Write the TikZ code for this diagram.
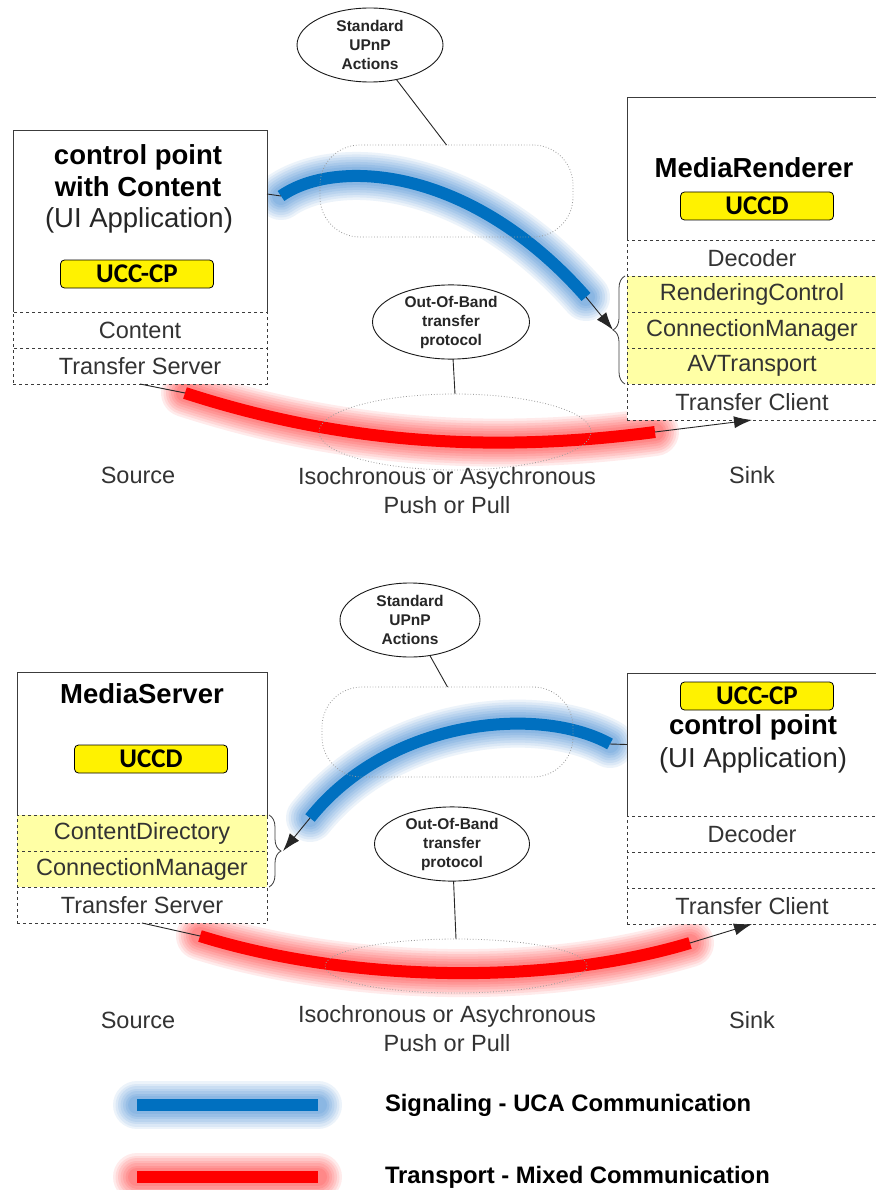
\documentclass[tikz,border=0pt]{standalone}
\usepackage{fontspec}
\setmainfont{Liberation Sans}
\newfontfamily\calfont{Carlito}
\usetikzlibrary{arrows.meta,positioning,shapes.geometric,decorations.pathreplacing}

\definecolor{sigblue}{RGB}{0,112,192}
\definecolor{glowblue}{RGB}{100,160,220}
\definecolor{trred}{RGB}{255,0,0}
\definecolor{glowred}{RGB}{255,95,95}
\definecolor{svcyellow}{RGB}{255,255,165}
\definecolor{frame}{RGB}{60,60,60}

\newcommand{\secsize}{\fontsize{23.5}{29}\selectfont}
\newcommand{\devfont}{\bfseries\fontsize{27.5}{32}\selectfont}
\newcommand{\appfont}{\fontsize{27.5}{32}\selectfont}
\newcommand{\tagfont}{\calfont\bfseries\fontsize{27}{28}\selectfont}
\newcommand{\bubblefont}{\bfseries\fontsize{15.5}{19}\selectfont}
\newcommand{\legfont}{\bfseries\fontsize{23.8}{26}\selectfont}

\begin{document}
\begin{tikzpicture}[x=1pt,y=-1pt,>={Latex[length=18pt,width=12pt]},
    every node/.style={inner sep=0pt,outer sep=0pt},
    dev/.style={draw=frame,fill=white,line width=0.9pt},
    sect/.style={draw=frame,dashed,fill=white,line width=0.8pt,minimum height=36,text=black!80,font=\secsize},
    svc/.style={sect,fill=svcyellow},
    tag/.style={draw=black,fill=yellow,rounded corners=4pt,line width=0.8pt,minimum width=153,minimum height=28,font=\tagfont},
    devtitle/.style={align=center,font=\devfont},
    app/.style={font=\appfont,text=black!85},
    bubble/.style={draw=black!90,ellipse,line width=0.9pt,align=center,font=\bubblefont,text=black!85},
    zone/.style={draw=black!40,dotted,line width=0.8pt},
    conn/.style={draw=black!85,line width=0.9pt},
    lbl/.style={align=center,font=\secsize,text=black!80},
    legtext/.style={anchor=west,font=\legfont},
    bracemark/.style={decorate,decoration={brace,amplitude=12pt,raise=2pt},draw=frame,line width=0.8pt},
    glow/.style={preaction={draw=#1,line width=48pt,line cap=round,opacity=.12},
        preaction={draw=#1,line width=43pt,line cap=round,opacity=.12},
        preaction={draw=#1,line width=38pt,line cap=round,opacity=.15},
        preaction={draw=#1,line width=33pt,line cap=round,opacity=.15},
        preaction={draw=#1,line width=28pt,line cap=round,opacity=.18},
        preaction={draw=#1,line width=23pt,line cap=round,opacity=.22},
        preaction={draw=#1,line width=18pt,line cap=round,opacity=.25}},
    sigline/.style={glow=glowblue,draw=sigblue,line width=12pt},
    trline/.style={glow=glowred,draw=trred,line width=12pt}]

    \path[use as bounding box,fill=white] (0,0) rectangle (875,1190);

    % ends of the thick parts
    \coordinate (b1) at (281,196);
    \coordinate (b2) at (586,297);
    \coordinate (r1) at (185,393);
    \coordinate (r2) at (655,432);
    \coordinate (b3) at (610,744);
    \coordinate (b4) at (310,818);
    \coordinate (r3) at (200,936);
    \coordinate (r4) at (690,943);
    \coordinate (lgS1) at (137,1105);
    \coordinate (lgS2) at (318,1105);
    \coordinate (lgT1) at (137,1177);
    \coordinate (lgT2) at (318,1177);

    \draw[sigline] (b1) .. controls (335,158) and (470,165) .. (b2);
    \draw[trline] (r1) .. controls (330,440) and (480,455) .. (r2);
    \draw[sigline] (b3) .. controls (540,705) and (390,718) .. (b4);
    \draw[trline] (r3) .. controls (340,980) and (540,988) .. (r4);

    % upper case
    \node[dev,minimum width=254,minimum height=182] (cpTop) at (140,221) {};
    \node[sect,minimum width=254] (contTop) [below=0pt of cpTop] {Content};
    \node[sect,minimum width=254] (tsTop) [below=0pt of contTop] {Transfer Server};
    \node[devtitle] (cpName) at (138,171) {control point\\with Content};
    \node[app] (cpApp) at (139,220) {(UI Application)};
    \node[tag] (uccTop) at (137,274) {UCC-CP};

    \node[dev,minimum width=250,minimum height=143] (mrTop) at (752,168.5) {};
    \node[sect,minimum width=250] (decTop) [below=0pt of mrTop] {Decoder};
    \node[svc,minimum width=250] (rcTop) [below=0pt of decTop] {RenderingControl};
    \node[svc,minimum width=250] (cmTop) [below=0pt of rcTop] {ConnectionManager};
    \node[svc,minimum width=250] (avtTop) [below=0pt of cmTop] {AVTransport};
    \node[sect,minimum width=250] (tcTop) [below=0pt of avtTop] {Transfer Client};
    \node[devtitle] (mrName) at (754,168) {MediaRenderer};
    \node[tag] (uccdTop) at (757,206) {UCCD};

    \draw[bracemark] (avtTop.south west) -- (rcTop.north west);
    \coordinate (rcTip) at (613,330);

    \node[zone,rounded corners=40pt,minimum width=253,minimum height=92] (sigZoneTop) at (446.5,191) {};
    \node[zone,ellipse,minimum width=272,minimum height=76] (trZoneTop) at (455,432) {};
    \node[bubble,minimum width=146,minimum height=74] (upnpTop) at (370,45) {Standard\\UPnP\\Actions};
    \node[bubble,minimum width=157,minimum height=70] (oobTop) at (451,322) {Out-Of-Band\\transfer\\protocol};

    \draw[conn] (cpTop.12) -- (b1);
    \draw[conn,->] (b2) -- (rcTip);
    \draw[conn] (tsTop.south) -- (r1);
    \draw[conn,->] (r2) -- (tcTop.south);
    \draw[conn] (upnpTop) -- (sigZoneTop.north);
    \draw[conn] (oobTop) -- (trZoneTop.north);

    \node[lbl] (srcTop) at (138,475) {Source};
    \node[lbl] (sinkTop) at (752,475) {Sink};
    \node[lbl] (modeTop) at (447,491) {Isochronous or Asychronous\\Push or Pull};

    % lower case
    \node[dev,minimum width=250,minimum height=143] (msBot) at (142,743.5) {};
    \node[svc,minimum width=250] (cdBot) [below=0pt of msBot] {ContentDirectory};
    \node[svc,minimum width=250] (cmBot) [below=0pt of cdBot] {ConnectionManager};
    \node[sect,minimum width=250] (tsBot) [below=0pt of cmBot] {Transfer Server};
    \node[devtitle] (msName) at (142,694) {MediaServer};
    \node[tag] (uccdBot) at (151,759) {UCCD};

    \node[dev,minimum width=250,minimum height=143] (cpBot) at (752,744.5) {};
    \node[sect,minimum width=250] (decBot) [below=0pt of cpBot] {Decoder};
    \node[sect,minimum width=250] (spareBot) [below=0pt of decBot] {};
    \node[sect,minimum width=250] (tcBot) [below=0pt of spareBot] {Transfer Client};
    \node[tag] (uccBot) at (757,696) {UCC-CP};
    \node[devtitle] (cpBotName) at (753,727) {control point};
    \node[app] (cpBotApp) at (753,760) {(UI Application)};

    \draw[bracemark] (cdBot.north east) -- (cmBot.south east);
    \coordinate (cdTip) at (283,851);

    \node[zone,rounded corners=40pt,minimum width=251,minimum height=90] (sigZoneBot) at (447.5,732) {};
    \node[zone,ellipse,minimum width=262,minimum height=54] (trZoneBot) at (456,966) {};
    \node[bubble,minimum width=140,minimum height=74] (upnpBot) at (410,620) {Standard\\UPnP\\Actions};
    \node[bubble,minimum width=155,minimum height=72] (oobBot) at (452,844) {Out-Of-Band\\transfer\\protocol};

    \draw[conn] (cpBot.west) -- (b3);
    \draw[conn,->] (b4) -- (cdTip);
    \draw[conn] (tsBot.south) -- (r3);
    \draw[conn,->] (r4) -- (tcBot.south);
    \draw[conn] (upnpBot) -- (sigZoneBot.north);
    \draw[conn] (oobBot) -- (trZoneBot.north);

    \node[lbl] (srcBot) at (138,1020) {Source};
    \node[lbl] (sinkBot) at (752,1020) {Sink};
    \node[lbl] (modeBot) at (447,1029) {Isochronous or Asychronous\\Push or Pull};

    % legend
    \draw[sigline] (lgS1) -- (lgS2);
    \draw[trline] (lgT1) -- (lgT2);
    \node[legtext] (sigText) at (385,1105) {Signaling - UCA Communication};
    \node[legtext] (trText) at (385,1177) {Transport - Mixed Communication};
\end{tikzpicture}
\end{document}
